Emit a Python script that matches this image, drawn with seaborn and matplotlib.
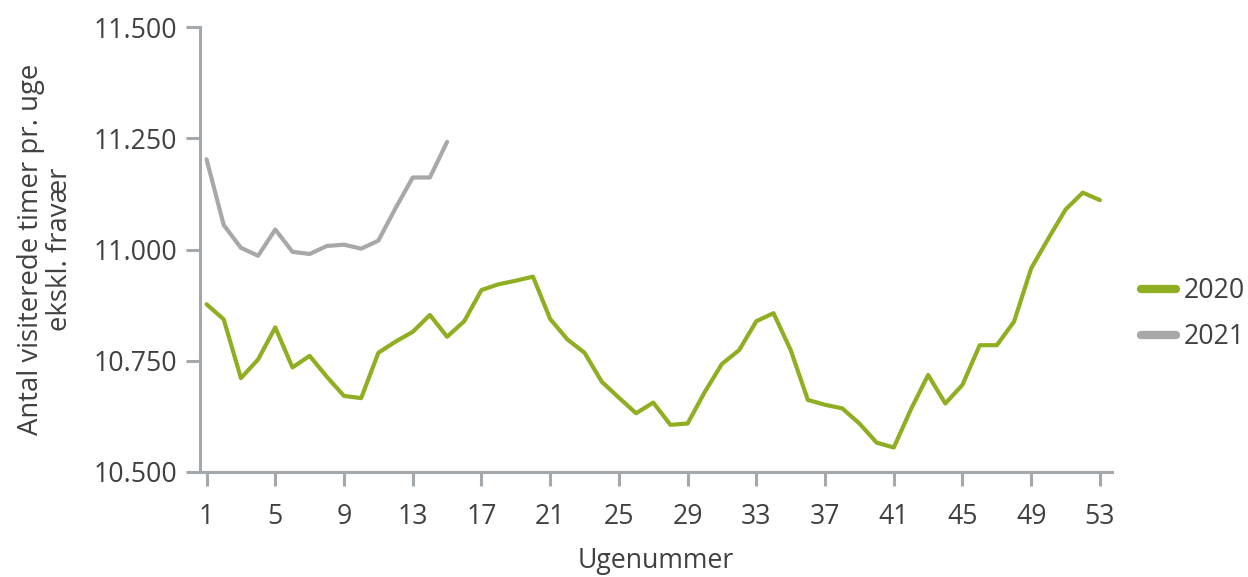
import matplotlib
matplotlib.use("Agg")
import matplotlib.pyplot as plt
import matplotlib.ticker as mticker
import seaborn as sns
import pandas as pd

weeks_2020 = list(range(1, 54))
values_2020 = [10877, 10843, 10711, 10753, 10825, 10735, 10761, 10714, 10671, 10666,
               10768, 10793, 10815, 10853, 10804, 10839, 10909, 10922, 10930, 10939,
               10844, 10798, 10768, 10703, 10667, 10632, 10656, 10606, 10609, 10680,
               10743, 10774, 10839, 10857, 10774, 10662, 10651, 10643, 10609, 10566,
               10555, 10641, 10718, 10654, 10696, 10785, 10785, 10838, 10958, 11025,
               11090, 11128, 11111]
weeks_2021 = list(range(1, 16))
values_2021 = [11203, 11055, 11004, 10986, 11045, 10995, 10990, 11008, 11011, 11002,
               11020, 11093, 11162, 11162, 11242]
x_ticks = list(range(1, 54, 4))
y_ticks = [10500, 10750, 11000, 11250, 11500]

df = pd.concat([
    pd.DataFrame({"uge": weeks_2020, "timer": values_2020, "år": "2020"}),
    pd.DataFrame({"uge": weeks_2021, "timer": values_2021, "år": "2021"}),
])

sns.set_theme(style="white")
plt.rcParams["font.family"] = ["Open Sans", "DejaVu Sans"]
text_color = "#404040"
axis_color = "#A3A8AD"
fs = 19.2

fig, ax = plt.subplots(figsize=(12.48, 5.77), dpi=100)
fig.subplots_adjust(left=0.160, right=0.891, bottom=0.182, top=0.953)

sns.lineplot(data=df, x="uge", y="timer", hue="år",
             palette={"2020": "#8FAE22", "2021": "#A8A8A8"},
             linewidth=3.0, ax=ax)

ax.set_xlim(0.6, 53.7)
ax.set_ylim(10500, 11500)
ax.set_xticks(x_ticks)
ax.set_yticks(y_ticks)
ax.yaxis.set_major_formatter(mticker.FuncFormatter(lambda v, p: f"{v:,.0f}".replace(",", ".")))

for s in ["top", "right"]:
    ax.spines[s].set_visible(False)
for s in ["left", "bottom"]:
    ax.spines[s].set_color(axis_color)
    ax.spines[s].set_linewidth(2.2)

ax.tick_params(axis="both", which="major", length=10, width=2.2, color=axis_color,
               labelsize=fs, labelcolor=text_color)
ax.tick_params(axis="y", pad=6)
ax.tick_params(axis="x", pad=12)
ax.tick_params(left=True, bottom=True)

ax.set_xlabel("Ugenummer", fontsize=fs, color=text_color, labelpad=12)
ax.set_ylabel("Antal visiterede timer pr. uge\nekskl. fravær", fontsize=19.8,
              color=text_color, labelpad=14, linespacing=1.05)

leg = ax.legend(loc="center left", bbox_to_anchor=(1.020, 0.355), frameon=False,
                fontsize=fs, handlelength=1.3, handletextpad=0.3, labelspacing=0.68,
                borderaxespad=0)
for line in leg.get_lines():
    line.set_linewidth(6)
for t in leg.get_texts():
    t.set_color(text_color)

fig.savefig("out.png", dpi=100)
